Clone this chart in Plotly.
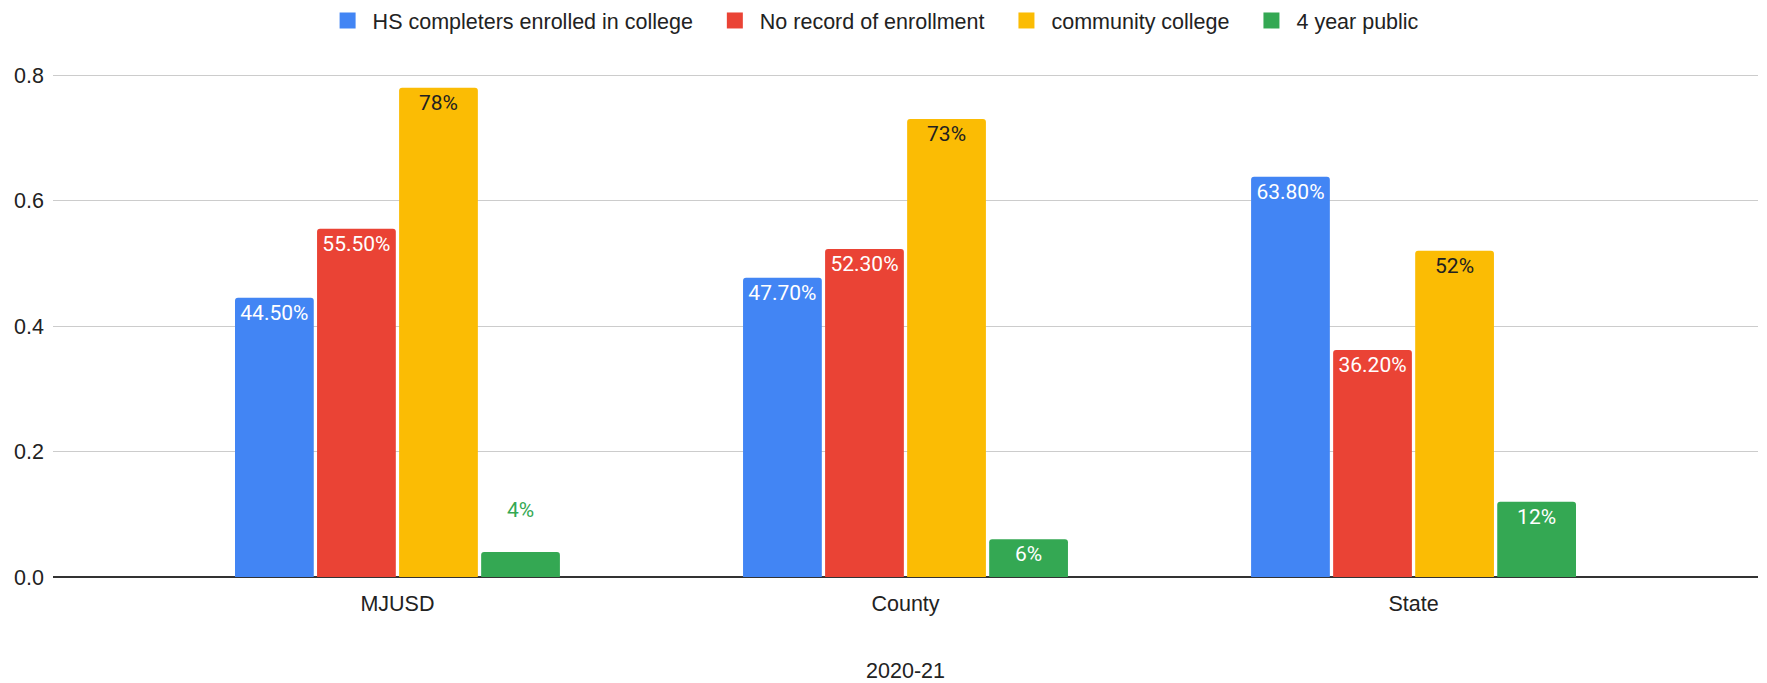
import plotly.graph_objects as go

# Regions compared for the 2020-21 school year
regions = ["MJUSD", "County", "State"]

# Share of high-school completers, by outcome
hs_enrolled = [0.445, 0.477, 0.638]
no_record = [0.555, 0.523, 0.362]
community_college = [0.78, 0.73, 0.52]
four_year_public = [0.04, 0.06, 0.12]

# Data-label text for each bar
hs_enrolled_labels = ["44.50%", "47.70%", "63.80%"]
no_record_labels = ["55.50%", "52.30%", "36.20%"]
community_college_labels = ["78%", "73%", "52%"]
four_year_public_labels = ["4%", "6%", "12%"]

series = [
    ("HS completers enrolled in college", hs_enrolled, hs_enrolled_labels, "#4285F4", "#FFFFFF"),
    ("No record of enrollment", no_record, no_record_labels, "#EA4335", "#FFFFFF"),
    ("community college", community_college, community_college_labels, "#FBBC04", "#212121"),
    ("4 year public", four_year_public, four_year_public_labels, "#34A853", "#FFFFFF"),
]

LABEL_FONT = "Roboto, Arial, sans-serif"
AXIS_FONT = "Liberation Sans, Arial, sans-serif"
TEXT_COLOR = "#222222"
SHORT_BAR = 0.05  # bars below this height carry their label above the bar

fig = go.Figure()
for i, (name, values, labels, color, inside_color) in enumerate(series):
    texts, positions, colors = [], [], []
    for v, lab in zip(values, labels):
        if v < SHORT_BAR:
            # blank second line lifts the outside label clear of the bar
            texts.append(lab + "<br> ")
            positions.append("outside")
            colors.append(color)
        else:
            texts.append(lab)
            positions.append("inside")
            colors.append(inside_color)
    fig.add_trace(go.Bar(
        name=name,
        legendgroup=name,
        showlegend=False,
        x=regions,
        y=values,
        text=texts,
        textposition=positions,
        insidetextanchor="end",
        textangle=0,
        textfont=dict(family=LABEL_FONT, size=21, color=colors),
        marker=dict(color=color, cornerradius=3, line=dict(width=0)),
        cliponaxis=False,
        hoverinfo="skip",
    ))
    # legend key: a larger square swatch; trailing no-break spaces widen the gap between entries
    key_name = name if i == len(series) - 1 else name + "\u00a0\u00a0"
    fig.add_trace(go.Scatter(
        name=key_name,
        legendgroup=name,
        x=[None],
        y=[None],
        mode="markers",
        marker=dict(symbol="square", size=16, color=color),
        hoverinfo="skip",
    ))

fig.update_layout(
    width=1767,
    height=683,
    barmode="group",
    bargap=0.354,
    bargroupgap=0.04,
    plot_bgcolor="#FFFFFF",
    paper_bgcolor="#FFFFFF",
    margin=dict(l=53, r=9, t=50, b=106),
    font=dict(family=AXIS_FONT, size=21.5, color=TEXT_COLOR),
    showlegend=True,
    legend=dict(
        orientation="h",
        xref="paper",
        x=0.481,
        xanchor="center",
        yref="container",
        y=1.0,
        yanchor="top",
        itemwidth=40,
        font=dict(family=AXIS_FONT, size=21.5, color=TEXT_COLOR),
        bgcolor="rgba(0,0,0,0)",
        traceorder="normal",
    ),
)

fig.update_xaxes(
    type="category",
    range=[-0.678, 2.678],
    automargin=False,
    showgrid=False,
    showline=False,
    zeroline=False,
    ticks="outside",
    ticklen=7,
    tickcolor="rgba(0,0,0,0)",
    tickfont=dict(family=AXIS_FONT, size=21.5, color=TEXT_COLOR),
    title=dict(text="2020-21", font=dict(family=AXIS_FONT, size=21.5, color=TEXT_COLOR), standoff=49),
)

fig.update_yaxes(
    range=[0, 0.84],
    automargin=False,
    tickvals=[0, 0.2, 0.4, 0.6, 0.8],
    ticktext=["0.0", "0.2", "0.4", "0.6", "0.8"],
    showgrid=True,
    gridcolor="#CCCCCC",
    gridwidth=1,
    zeroline=True,
    zerolinecolor="#333333",
    zerolinewidth=2,
    showline=False,
    ticks="",
    ticklabelstandoff=8,
    tickfont=dict(family=AXIS_FONT, size=21.5, color=TEXT_COLOR),
)

fig.write_html("out.html")
